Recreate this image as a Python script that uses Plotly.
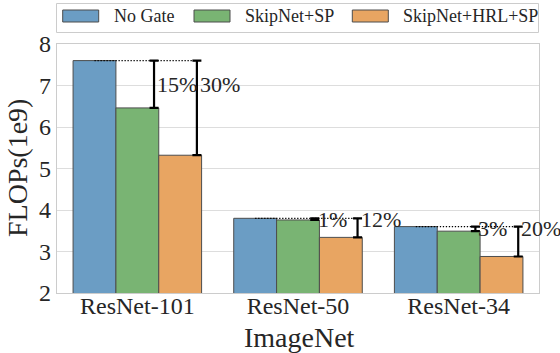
import plotly.graph_objects as go

# ---- data (GFLOPs on ImageNet) ----
categories = ["ResNet-101", "ResNet-50", "ResNet-34"]
series_names = ["No Gate", "SkipNet+SP", "SkipNet+HRL+SP"]
no_gate = [7.60, 3.80, 3.60]
skipnet_sp = [6.46, 3.76, 3.49]
skipnet_hrl_sp = [5.32, 3.34, 2.88]
y_ticks = [2, 3, 4, 5, 6, 7, 8]

colors = ["#6b9dc4", "#79b473", "#e8a562"]
edge = "#4d4d4d"
text_col = "#262626"
serif = "Liberation Serif"

W, H = 560, 353
L, R, T, B = 57, 21, 44, 60
plot_w, plot_h = W - L - R, H - T - B

bar_w = 0.8 / 3
series = [no_gate, skipnet_sp, skipnet_hrl_sp]

fig = go.Figure()
for k, (name, vals) in enumerate(zip(series_names, series)):
    xs = [i + (k - 1) * bar_w for i in range(len(categories))]
    fig.add_trace(go.Bar(
        x=xs, y=vals, width=bar_w, name=name,
        marker=dict(color=colors[k], line=dict(color=edge, width=1)),
        showlegend=False,
    ))

# reduction relative to the un-gated network
err_off = 0.39 * bar_w
for i in range(len(categories)):
    base = no_gate[i]
    x_blue = i - bar_w
    x_last = i + bar_w + err_off
    # dotted reference level at the baseline FLOPs
    fig.add_trace(go.Scatter(
        x=[x_blue, x_last], y=[base, base], mode="lines",
        line=dict(color="black", width=1.3, dash="1.3px,1.7px"),
        showlegend=False, hoverinfo="skip",
    ))
    label_y = (base + skipnet_sp[i]) / 2
    for k, vals in enumerate([skipnet_sp, skipnet_hrl_sp]):
        xe = i + k * bar_w + err_off
        fig.add_trace(go.Scatter(
            x=[xe], y=[vals[i]], mode="markers",
            marker=dict(size=1, color="rgba(0,0,0,0)"),
            error_y=dict(type="data", symmetric=False,
                         array=[base - vals[i]], arrayminus=[0],
                         color="black", thickness=2.2, width=4.5),
            showlegend=False, hoverinfo="skip",
        ))
        pct = round((1 - vals[i] / base) * 100)
        fig.add_annotation(
            x=xe, y=label_y, text=f"{pct}%", showarrow=False,
            xanchor="left", yanchor="middle", xshift=1,
            font=dict(family=serif, size=22, color=text_col),
        )


def px_x(p):
    return (p - L) / plot_w


def px_y(p):
    return (H - B - p) / plot_h


# legend frame and entries
fig.add_shape(type="rect", xref="paper", yref="paper",
              x0=px_x(56.5), x1=px_x(538.5), y0=px_y(32.5), y1=px_y(3.5),
              line=dict(color="#cccccc", width=1), fillcolor="white")
patch_x = [62.7, 194.0, 352.3]
for k, name in enumerate(series_names):
    x0 = patch_x[k]
    fig.add_shape(type="rect", xref="paper", yref="paper",
                  x0=px_x(x0), x1=px_x(x0 + 36), y0=px_y(22), y1=px_y(10),
                  line=dict(color=edge, width=1), fillcolor=colors[k])
    fig.add_annotation(xref="paper", yref="paper", x=px_x(x0 + 49), y=px_y(16.5),
                       text=name, showarrow=False, xanchor="left", yanchor="middle",
                       font=dict(family=serif, size=18, color=text_col))

# axis titles
fig.add_annotation(xref="paper", yref="paper", x=px_x(299.5), y=px_y(337),
                   text="ImageNet", showarrow=False, xanchor="center", yanchor="middle",
                   font=dict(family=serif, size=28, color=text_col))
fig.add_annotation(xref="paper", yref="paper", x=px_x(17.5), y=px_y(168.5),
                   text="FLOPs(1e9)", showarrow=False, textangle=-90,
                   xanchor="center", yanchor="middle",
                   font=dict(family=serif, size=28, color=text_col))

fig.update_layout(
    width=W, height=H,
    margin=dict(l=L, r=R, t=T, b=B, autoexpand=False),
    plot_bgcolor="white", paper_bgcolor="white",
    barmode="overlay",
    font=dict(family=serif, color=text_col),
    xaxis=dict(
        range=[-0.5, len(categories) - 0.5],
        tickvals=list(range(len(categories))), ticktext=categories,
        tickfont=dict(family=serif, size=24, color=text_col),
        showgrid=False, zeroline=False, automargin=False,
        showline=True, linecolor="#cccccc", linewidth=1.2, mirror=True,
        ticks="", ticklabelstandoff=-9,
    ),
    yaxis=dict(
        range=[2, 8], tickvals=y_ticks,
        tickfont=dict(family=serif, size=24, color=text_col),
        showgrid=True, gridcolor="#dddddd", gridwidth=1.2, zeroline=False,
        automargin=False,
        showline=True, linecolor="#cccccc", linewidth=1.2, mirror=True,
        ticks="", ticklabelstandoff=0,
    ),
)

fig.write_html("out.html")
